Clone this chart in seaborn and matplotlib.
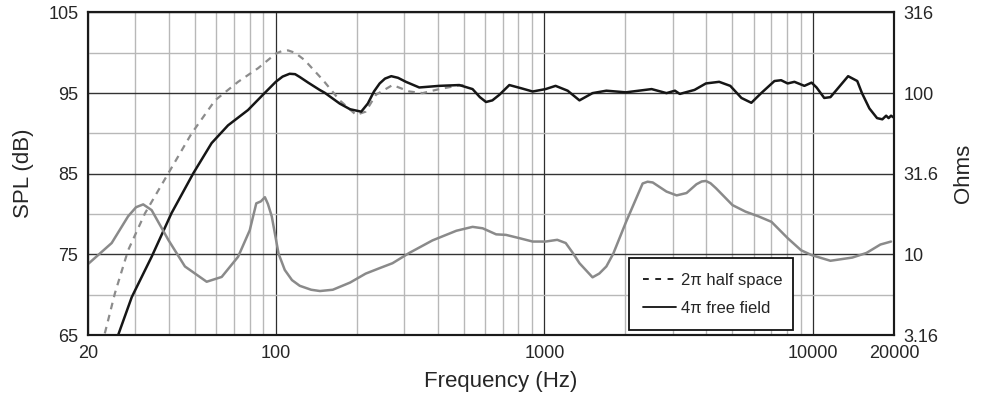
import matplotlib
matplotlib.use("Agg")
import matplotlib.pyplot as plt
import seaborn as sns
from matplotlib.lines import Line2D
from matplotlib.ticker import FixedLocator, FixedFormatter, NullLocator, NullFormatter

# ======================================
# DATA
# ======================================

# 4pi free field SPL (black solid)
freq_free = [25.9, 29.1, 34.5, 40.9, 49.3, 57.7, 66.4, 78.8, 89.6, 100, 106, 112.6, 118,
             122.8, 132, 145.6, 152, 173, 189, 208, 220, 232, 243.6, 255, 269, 285, 305,
             342, 406, 482, 540, 575, 606, 640, 680, 740, 820, 904, 1010, 1100, 1220,
             1350, 1510, 1700, 2010, 2506, 2846, 3060, 3190, 3620, 3990, 4470, 4916,
             5410, 5890, 6410, 7180, 7600, 8040, 8520, 9280, 9870, 10300, 11000,
             11600, 12300, 13500, 14600, 15200, 16200, 17300, 18100, 18700, 19100,
             19500, 19900]
spl_free = [65.0, 69.7, 74.7, 80.1, 85.05, 88.8, 91.0, 92.9, 94.8, 96.4, 97.05, 97.4, 97.35,
            97.0, 96.3, 95.4, 95.05, 93.7, 93.0, 92.7, 93.7, 95.2, 96.2, 96.8, 97.1, 96.9, 96.4,
            95.7, 95.9, 96.0, 95.5, 94.5, 93.9, 94.1, 94.8, 96.0, 95.6, 95.2, 95.5, 95.9, 95.3,
            94.1, 95.0, 95.3, 95.1, 95.5, 95.0, 95.3, 94.9, 95.4, 96.2, 96.4, 95.9,
            94.4, 93.8, 95.0, 96.5, 96.6, 96.2, 96.4, 95.9, 96.3, 95.7, 94.4,
            94.5, 95.5, 97.1, 96.5, 95.0, 93.1, 91.9, 91.75, 92.2, 91.9,
            92.2, 92.0]

# 2pi half space SPL (grey dashed)
freq_half = [23.1, 25.2, 28.2, 32.6, 39.8, 48.6, 59.4, 72.4, 86.0, 100, 105, 111, 118, 128,
             150, 173, 199, 216, 236, 272, 314, 352, 406, 470, 500]
spl_half = [65.2, 70.2, 75.5, 80.1, 85.05, 90.0, 94.1, 96.4, 98.1, 99.9, 100.2, 100.3, 100.0, 99.1,
            96.6, 94.1, 92.3, 92.7, 94.8, 96.0, 95.2, 95.0, 95.5, 95.9, 96.0]

# impedance (grey solid, right axis)
freq_imp = [20, 24.5, 28.2, 30.2, 32.1, 34.5, 39.8, 45.9, 55.3, 62.9, 72.4, 80.0, 84.6,
            88, 91.1, 93.5, 96.6, 102.4, 108, 114.9, 122.8, 135.4, 146, 163, 189, 216, 244,
            272, 314, 383, 470, 540, 589, 661, 719, 806, 904, 1010, 1116, 1200, 1270,
            1350, 1510, 1600, 1700, 1804, 2010, 2320, 2420, 2530, 2846, 3105, 3380, 3680,
            3850, 3990, 4150, 4350, 5010, 5600, 6260, 7000, 8040, 9020, 9870, 11600, 14000,
            15800, 17800, 19500]
ohms_imp = [8.7, 11.75, 17.2, 19.6, 20.4, 18.8, 12.3, 8.41, 6.76, 7.24, 9.66, 14.1, 20.7,
            21.3, 22.6, 20.5, 17.2, 10.1, 8.0, 6.92, 6.38, 6.03, 5.92, 6.03, 6.68, 7.59, 8.22,
            8.81, 10.2, 12.2, 14.0, 14.8, 14.5, 13.3, 13.2, 12.6, 12.0, 12.0, 12.3, 11.75, 10.3,
            8.81, 7.2, 7.6, 8.41, 10.1, 15.8, 27.5, 28.2, 27.9, 24.5, 23.2, 24.0, 27.2,
            28.3, 28.5, 27.6, 25.7, 20.2, 18.4, 17.2, 15.9, 12.6, 10.6, 9.89, 9.12, 9.55,
            10.2, 11.5, 12.0]

x_ticks = [20, 100, 1000, 10000, 20000]
x_labels = ["20", "100", "1000", "10000", "20000"]
y_ticks = [65, 75, 85, 95, 105]
ohm_ticks = [3.16, 10, 31.6, 100, 316]
ohm_labels = ["3.16", "10", "31.6", "100", "316"]

# ======================================
# PLOT
# ======================================

sns.set_style("white")
plt.rcParams["font.family"] = ["Liberation Sans", "DejaVu Sans"]

fig = plt.figure(figsize=(9.91, 3.99), dpi=100)
ax = fig.add_axes([0.0888, 0.1604, 0.8133, 0.8083])

ax.set_xscale("log")
ax.set_xlim(20, 20000)
ax.set_ylim(65, 105)

minor_x = [30, 40, 50, 60, 70, 80, 90, 200, 300, 400, 500, 600, 700, 800, 900,
           2000, 3000, 4000, 5000, 6000, 7000, 8000, 9000]
ax.xaxis.set_major_locator(FixedLocator(x_ticks))
ax.xaxis.set_major_formatter(FixedFormatter(x_labels))
ax.xaxis.set_minor_locator(FixedLocator(minor_x))
ax.xaxis.set_minor_formatter(NullFormatter())
ax.yaxis.set_major_locator(FixedLocator(y_ticks))
ax.yaxis.set_minor_locator(FixedLocator([70, 80, 90, 100]))

ax.set_axisbelow(True)
ax.grid(which="minor", color="#b8b8b8", linewidth=1.0)
ax.grid(which="major", axis="x", color="#2e2e2e", linewidth=0.9)
ax.grid(which="major", axis="y", color="#333333", linewidth=1.0)
for tick in ax.yaxis.get_major_ticks():
    if tick.get_loc() == 75:
        tick.gridline.set_color("#777777")
        tick.gridline.set_linewidth(1.6)

sns.lineplot(x=freq_half, y=spl_half, ax=ax, color="#8c8c8c", linewidth=1.6,
             linestyle=(0, (3, 2.6)))
sns.lineplot(x=freq_free, y=spl_free, ax=ax, color="#161616", linewidth=1.8)

ax.tick_params(axis="both", which="both", length=0, labelsize=13, pad=7)
ax.set_xlabel("Frequency (Hz)", fontsize=16, labelpad=7, x=0.512)
ax.set_ylabel("SPL (dB)", fontsize=16, labelpad=10)

ax2 = ax.twinx()
ax2.set_yscale("log")
ax2.set_ylim(3.16, 316)
sns.lineplot(x=freq_imp, y=ohms_imp, ax=ax2, color="#8a8a8a", linewidth=1.8)
ax2.yaxis.set_major_locator(FixedLocator(ohm_ticks))
ax2.yaxis.set_major_formatter(FixedFormatter(ohm_labels))
ax2.yaxis.set_minor_locator(NullLocator())
ax2.tick_params(axis="y", which="both", length=0, labelsize=13, pad=7)
ax2.set_ylabel("Ohms", fontsize=16, labelpad=10)

for a in (ax, ax2):
    for sp in a.spines.values():
        sp.set_color("#1a1a1a")
        sp.set_linewidth(1.5)

handles = [Line2D([], [], color="#111111", linewidth=1.3, linestyle=(0, (3.2, 3.6))),
           Line2D([], [], color="#111111", linewidth=1.3)]
leg = ax2.legend(handles=handles, labels=["2\u03c0 half space", "4\u03c0 free field"],
                 loc="lower left", bbox_to_anchor=(0.671, 0.0155, 0.204, 0.22),
                 mode="expand", borderaxespad=0, frameon=True, fancybox=False,
                 framealpha=1, edgecolor="#111111", fontsize=12,
                 handlelength=2.0, handletextpad=0.3, borderpad=0.85, labelspacing=0.8)
leg.get_frame().set_linewidth(1.3)

fig.savefig("out.png", dpi=100)
plt.close()
